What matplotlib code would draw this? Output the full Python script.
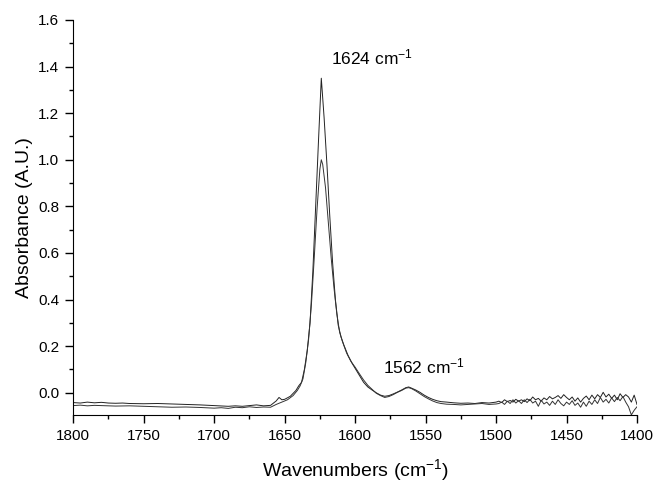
import matplotlib
matplotlib.use("Agg")
import matplotlib.pyplot as plt
from matplotlib.ticker import MultipleLocator, FormatStrFormatter

plt.rcParams["font.family"] = ["Liberation Sans", "DejaVu Sans"]
plt.rcParams["mathtext.fontset"] = "custom"
plt.rcParams["mathtext.rm"] = "Liberation Sans"
plt.rcParams["mathtext.it"] = "Liberation Sans"
plt.rcParams["mathtext.default"] = "rm"

# spectrum with the tall peak (1.35)
wn_a = [1800, 1795, 1790, 1785, 1780, 1775, 1770, 1765, 1760, 1750, 1740, 1730,
        1720, 1710, 1700, 1690, 1685, 1680, 1675, 1670, 1665, 1660, 1656, 1654,
        1652, 1650, 1646, 1642, 1640, 1638, 1636, 1634, 1632, 1630, 1628, 1626,
        1624, 1622, 1620, 1618, 1616, 1614, 1612, 1610, 1608, 1605, 1602, 1600,
        1597, 1594, 1591, 1588, 1585, 1582, 1579, 1576, 1573, 1570, 1567, 1564,
        1562, 1560, 1557, 1554, 1551, 1548, 1545, 1542, 1539, 1535, 1530, 1525,
        1520, 1515, 1510, 1505, 1500,
        1498, 1496, 1494, 1492, 1490, 1488, 1486, 1484, 1482, 1480, 1478, 1476,
        1474, 1472, 1470, 1468, 1466, 1464, 1462, 1460, 1458, 1456, 1454, 1452,
        1450, 1448, 1446, 1444, 1442, 1440, 1438, 1436, 1434, 1432, 1430, 1428,
        1426, 1424, 1422, 1420, 1418, 1416, 1414, 1412, 1410, 1408, 1406, 1404,
        1402, 1400]
abs_a = [-0.042, -0.044, -0.040, -0.043, -0.041, -0.044, -0.045, -0.044, -0.046,
         -0.047, -0.046, -0.048, -0.050, -0.052, -0.055, -0.058, -0.056, -0.058,
         -0.055, -0.052, -0.056, -0.054, -0.035, -0.020, -0.030, -0.028, -0.015,
         0.010, 0.030, 0.045, 0.100, 0.180, 0.300, 0.520, 0.800, 1.080,
         1.350, 1.180, 0.980, 0.760, 0.560, 0.400, 0.290, 0.240, 0.205, 0.160,
         0.125, 0.105, 0.075, 0.045, 0.025, 0.012, 0.000, -0.010, -0.015, -0.012,
         -0.005, 0.003, 0.012, 0.022, 0.025, 0.020, 0.012, 0.002, -0.010, -0.020,
         -0.028, -0.034, -0.038, -0.040, -0.043, -0.045, -0.044, -0.046, -0.042,
         -0.044, -0.040,
         -0.036, -0.042, -0.030, -0.038, -0.033, -0.040, -0.028, -0.036, -0.030,
         -0.038, -0.026, -0.034, -0.018, -0.030, -0.024, -0.036, -0.022, -0.030,
         -0.016, -0.026, -0.020, -0.012, -0.024, -0.008, -0.020, -0.030, -0.018,
         -0.036, -0.022, -0.040, -0.024, -0.014, -0.030, -0.010, -0.026, -0.008,
         -0.020, 0.002, -0.018, -0.006, -0.024, -0.010, -0.030, -0.004, -0.020,
         -0.008, -0.018, -0.040, -0.010, -0.050]

# spectrum with the lower peak (1.0)
wn_b = [1800, 1795, 1790, 1785, 1780, 1770, 1760, 1750, 1740, 1730, 1720, 1710,
        1700, 1695, 1690, 1685, 1680, 1675, 1670, 1665, 1660, 1656, 1652, 1648,
        1644, 1641, 1639, 1637, 1635, 1633, 1631, 1629, 1627, 1625, 1624, 1623,
        1621, 1619, 1617, 1615, 1613, 1611, 1609, 1606, 1603, 1600, 1597, 1594,
        1591, 1588, 1585, 1582, 1579, 1576, 1573, 1570, 1567, 1564, 1562, 1560,
        1557, 1554, 1551, 1548, 1545, 1542, 1539, 1535, 1530, 1525, 1520, 1515,
        1510, 1505, 1500,
        1498, 1496, 1494, 1492, 1490, 1488, 1486, 1484, 1482, 1480, 1478, 1476,
        1474, 1472, 1470, 1468, 1466, 1464, 1462, 1460, 1458, 1456, 1454, 1452,
        1450, 1448, 1446, 1444, 1442, 1440, 1438, 1436, 1434, 1432, 1430, 1428,
        1426, 1424, 1422, 1420, 1418, 1416, 1414, 1412, 1410, 1408, 1406, 1404,
        1402, 1400]
abs_b = [-0.055, -0.053, -0.056, -0.054, -0.055, -0.057, -0.056, -0.058, -0.060,
         -0.062, -0.061, -0.063, -0.066, -0.064, -0.067, -0.062, -0.064, -0.060,
         -0.063, -0.061, -0.062, -0.050, -0.040, -0.030, -0.012, 0.010, 0.030,
         0.060, 0.130, 0.230, 0.380, 0.580, 0.790, 0.960, 1.000, 0.980, 0.880,
         0.730, 0.580, 0.450, 0.340, 0.260, 0.220, 0.170, 0.135, 0.110, 0.082,
         0.055, 0.032, 0.015, -0.002, -0.012, -0.020, -0.016, -0.008, 0.002,
         0.010, 0.020, 0.022, 0.018, 0.008, -0.004, -0.016, -0.026, -0.035,
         -0.042, -0.046, -0.049, -0.050, -0.052, -0.050, -0.048, -0.046, -0.050,
         -0.048,
         -0.046, -0.040, -0.050, -0.036, -0.046, -0.030, -0.044, -0.034, -0.046,
         -0.030, -0.042, -0.028, -0.044, -0.036, -0.058, -0.032, -0.048, -0.040,
         -0.054, -0.036, -0.050, -0.030, -0.046, -0.056, -0.040, -0.050, -0.034,
         -0.054, -0.044, -0.062, -0.040, -0.058, -0.036, -0.050, -0.030, -0.046,
         -0.020, -0.040, -0.028, -0.044, -0.022, -0.038, -0.020, -0.034, -0.016,
         -0.040, -0.060, -0.095, -0.075, -0.060]

peak_labels = ["1624 cm$^{-1}$", "1562 cm$^{-1}$"]
peak_label_pos = [(1617, 1.44), (1580, 0.115)]

fig = plt.figure(figsize=(6.54, 4.87), dpi=100)
ax = fig.add_axes([0.112, 0.148, 0.862, 0.811])

ax.plot(wn_a, abs_a, color="#222222", linewidth=0.7)
ax.plot(wn_b, abs_b, color="#333333", linewidth=0.7)

for txt, (x, y) in zip(peak_labels, peak_label_pos):
    ax.text(x, y, txt, fontsize=12.5, ha="left", va="center")

ax.set_xlim(1800, 1400)
ax.set_ylim(-0.095, 1.6)
ax.xaxis.set_major_locator(MultipleLocator(50))
ax.xaxis.set_minor_locator(MultipleLocator(25))
ax.yaxis.set_major_locator(MultipleLocator(0.2))
ax.yaxis.set_minor_locator(MultipleLocator(0.1))
ax.yaxis.set_major_formatter(FormatStrFormatter("%.1f"))

ax.spines["top"].set_visible(False)
ax.spines["right"].set_visible(False)
ax.tick_params(which="major", direction="out", length=6, width=1, labelsize=11, pad=4)
ax.tick_params(which="minor", direction="out", length=3, width=1)

ax.set_xlabel("Wavenumbers (cm$^{-1}$)", fontsize=14, labelpad=10)
ax.set_ylabel("Absorbance (A.U.)", fontsize=14, labelpad=4)

fig.savefig("out.png", dpi=100)
